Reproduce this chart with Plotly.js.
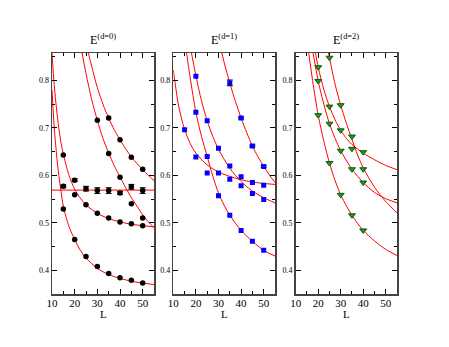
<!DOCTYPE html>
<html>
<head>
<meta charset="utf-8">
<script src="https://cdn.plot.ly/plotly-3.0.1.min.js"></script>
<style>
  html, body { margin: 0; padding: 0; background: #fff; }
  #plot { width: 449px; height: 347px; }
</style>
</head>
<body>
<div id="plot"></div>
<script>
"use strict";

// ── Panel (a) E^(d=0): measured points ──
const d0_L1 = [15, 20, 25, 30, 35, 40, 45, 50];
const d0_E1 = [0.529, 0.465, 0.429, 0.408, 0.393, 0.384, 0.379, 0.373];
const d0_L2 = [15, 20, 25, 30, 35, 40, 45, 50];
const d0_E2 = [0.643, 0.559, 0.538, 0.520, 0.510, 0.502, 0.498, 0.494];
const d0_L3 = [15, 20, 25, 30, 35, 40, 45, 50];
const d0_E3 = [0.577, 0.590, 0.572, 0.568, 0.568, 0.563, 0.576, 0.568];
const d0_err3 = [0.003, 0.003, 0.005, 0.006, 0.006, 0.003, 0.005, 0.006];
const d0_L4 = [30, 35, 40, 45, 50];
const d0_E4 = [0.716, 0.646, 0.596, 0.540, 0.510];
const d0_L5 = [35, 40, 45, 50];
const d0_E5 = [0.721, 0.675, 0.638, 0.613];

// fitted curves
const d0_fitL1 = [10, 11, 12, 13, 14, 15, 17.5, 20, 22.5, 25, 30, 35, 40, 45, 50, 55];
const d0_fit1 = [0.780, 0.700, 0.645, 0.600, 0.566, 0.535, 0.492, 0.465, 0.442, 0.426, 0.404, 0.391, 0.383, 0.377, 0.373, 0.370];
const d0_fitL2 = [10, 11, 12, 13, 14, 15, 17.5, 20, 22.5, 25, 30, 35, 40, 45, 50, 55];
const d0_fit2 = [0.858, 0.790, 0.740, 0.700, 0.668, 0.645, 0.600, 0.571, 0.552, 0.538, 0.520, 0.509, 0.502, 0.497, 0.494, 0.4915];
const d0_fitL3 = [10, 55];
const d0_fit3 = [0.569, 0.569];
const d0_fitL4 = [23, 25, 27.5, 30, 32.5, 35, 37.5, 40, 42.5, 45, 47.5, 50, 52.5, 55];
const d0_fit4 = [0.865, 0.815, 0.760, 0.716, 0.678, 0.647, 0.620, 0.597, 0.574, 0.553, 0.535, 0.517, 0.502, 0.490];
const d0_fitL5 = [25.5, 27.5, 30, 32.5, 35, 37.5, 40, 42.5, 45, 47.5, 50, 52.5, 55];
const d0_fit5 = [0.868, 0.830, 0.785, 0.750, 0.721, 0.696, 0.675, 0.656, 0.639, 0.625, 0.612, 0.600, 0.589];

// ── Panel (b) E^(d=1) ──
const d1_L1 = [20, 25, 30, 35, 40, 45, 50];
const d1_E1 = [0.733, 0.640, 0.557, 0.516, 0.484, 0.461, 0.442];
const d1_L2 = [15, 20, 25, 30, 35, 40, 45, 50];
const d1_E2 = [0.696, 0.639, 0.605, 0.605, 0.592, 0.597, 0.585, 0.579];
const d1_L3 = [20, 25, 30, 35, 40, 45, 50];
const d1_E3 = [0.809, 0.715, 0.657, 0.620, 0.578, 0.562, 0.549];
const d1_L4 = [35, 40, 45, 50];
const d1_E4 = [0.795, 0.721, 0.662, 0.619];
const d1_err4 = [0.006, 0.002, 0.002, 0.002];

const d1_fitL1 = [15.5, 17.5, 20, 22.5, 25, 27.5, 30, 32.5, 35, 40, 45, 50, 55];
const d1_fit1 = [0.870, 0.805, 0.733, 0.682, 0.640, 0.598, 0.563, 0.537, 0.516, 0.484, 0.461, 0.442, 0.430];
const d1_fitL2 = [10, 12.5, 15, 17.5, 20, 25, 30, 35, 40, 45, 50, 55];
const d1_fit2 = [0.822, 0.743, 0.697, 0.667, 0.647, 0.622, 0.607, 0.598, 0.591, 0.586, 0.583, 0.581];
const d1_fitL3 = [17.5, 20, 22.5, 25, 27.5, 30, 35, 40, 45, 50, 55];
const d1_fit3 = [0.872, 0.810, 0.757, 0.715, 0.682, 0.655, 0.615, 0.587, 0.567, 0.553, 0.542];
const d1_fitL4 = [31, 32.5, 35, 37.5, 40, 42.5, 45, 47.5, 50, 52.5, 55];
const d1_fit4 = [0.868, 0.838, 0.795, 0.756, 0.721, 0.690, 0.662, 0.639, 0.619, 0.601, 0.585];

// ── Panel (c) E^(d=2) ──
const d2_L1 = [20, 25, 30, 35, 40];
const d2_E1 = [0.727, 0.626, 0.559, 0.516, 0.484];
const d2_L2 = [20, 25, 30, 35, 40];
const d2_E2 = [0.799, 0.709, 0.652, 0.613, 0.585];
const d2_L3 = [20, 25, 30, 35, 40];
const d2_E3 = [0.828, 0.745, 0.695, 0.656, 0.649];
const d2_L4 = [25, 30, 35, 40];
const d2_E4 = [0.848, 0.748, 0.682, 0.613];

const d2_fitL1 = [15.5, 17.5, 20, 22.5, 25, 27.5, 30, 32.5, 35, 37.5, 40, 45, 50, 55];
const d2_fit1 = [0.868, 0.800, 0.727, 0.672, 0.626, 0.589, 0.559, 0.536, 0.516, 0.499, 0.484, 0.462, 0.444, 0.431];
const d2_fitL2 = [17.5, 20, 22.5, 25, 27.5, 30, 35, 40, 45, 50, 55];
const d2_fit2 = [0.865, 0.799, 0.750, 0.709, 0.678, 0.652, 0.613, 0.585, 0.564, 0.551, 0.542];
const d2_fitL3 = [18.5, 20, 22.5, 25, 27.5, 30, 32.5, 35, 40, 45, 50, 55];
const d2_fit3 = [0.866, 0.828, 0.781, 0.745, 0.717, 0.695, 0.678, 0.665, 0.647, 0.633, 0.621, 0.612];
const d2_fitL4 = [24.3, 25, 27.5, 30, 32.5, 35, 37.5, 40, 45, 50, 55];
const d2_fit4 = [0.865, 0.848, 0.792, 0.748, 0.710, 0.676, 0.643, 0.616, 0.575, 0.545, 0.521];

const PANEL_TITLES = ["E<sup>(d=0)</sup>", "E<sup>(d=1)</sup>", "E<sup>(d=2)</sup>"];
const X_TITLE = "L";
const FONT = "Liberation Serif, Times New Roman, serif";

const MARK = [
    { symbol: "circle", size: 5.5, color: "#000000", line: { width: 0 } },
    { symbol: "square", size: 5, color: "#0000ff", line: { width: 0 } },
    { symbol: "triangle-down", size: 6, color: "#1f9a1f", line: { width: 1, color: "#0b5a0b" } },
];

function fitTrace(x, y, ax) {
    return {
        type: "scatter", mode: "lines", x, y,
        xaxis: "x" + ax, yaxis: "y" + ax,
        line: { color: "#ff0000", width: 1, shape: "spline", smoothing: 0.8 },
        hoverinfo: "skip",
    };
}
function ptTrace(x, y, ax, mk, err) {
    const t = {
        type: "scatter", mode: "markers", x, y,
        xaxis: "x" + ax, yaxis: "y" + ax,
        marker: mk,
    };
    if (err) t.error_y = { type: "data", array: err, color: "#000", thickness: 1, width: 3 };
    return t;
}

const traces = [
    fitTrace(d0_fitL1, d0_fit1, ""), fitTrace(d0_fitL2, d0_fit2, ""),
    fitTrace(d0_fitL3, d0_fit3, ""), fitTrace(d0_fitL4, d0_fit4, ""),
    fitTrace(d0_fitL5, d0_fit5, ""),
    ptTrace(d0_L1, d0_E1, "", MARK[0]), ptTrace(d0_L2, d0_E2, "", MARK[0]),
    ptTrace(d0_L3, d0_E3, "", MARK[0], d0_err3), ptTrace(d0_L4, d0_E4, "", MARK[0]),
    ptTrace(d0_L5, d0_E5, "", MARK[0]),

    fitTrace(d1_fitL1, d1_fit1, "2"), fitTrace(d1_fitL2, d1_fit2, "2"),
    fitTrace(d1_fitL3, d1_fit3, "2"), fitTrace(d1_fitL4, d1_fit4, "2"),
    ptTrace(d1_L1, d1_E1, "2", MARK[1]), ptTrace(d1_L2, d1_E2, "2", MARK[1]),
    ptTrace(d1_L3, d1_E3, "2", MARK[1]), ptTrace(d1_L4, d1_E4, "2", MARK[1], d1_err4),

    fitTrace(d2_fitL1, d2_fit1, "3"), fitTrace(d2_fitL2, d2_fit2, "3"),
    fitTrace(d2_fitL3, d2_fit3, "3"), fitTrace(d2_fitL4, d2_fit4, "3"),
    ptTrace(d2_L1, d2_E1, "3", MARK[2]), ptTrace(d2_L2, d2_E2, "3", MARK[2]),
    ptTrace(d2_L3, d2_E3, "3", MARK[2]), ptTrace(d2_L4, d2_E4, "3", MARK[2]),
];

const W = 449, H = 347;
const xDomains = [[52 / W, 154 / W], [173.3 / W, 275 / W], [295.7 / W, 397 / W]];
const yDomain = [1 - 294 / H, 1 - 53 / H];

function xAxis(dom, anchor) {
    return {
        domain: dom, anchor, range: [10, 55],
        tick0: 10, dtick: 10, ticks: "inside", ticklen: 5, tickcolor: "#000",
        ticklabelstandoff: -2,
        minor: { dtick: 5, ticks: "inside", ticklen: 3, tickcolor: "#000", showgrid: false },
        showline: true, linecolor: "#444", linewidth: 1.5, mirror: "allticks",
        showgrid: false, zeroline: false,
        tickfont: { family: FONT, size: 11, color: "#000" },
    };
}
function yAxis(anchor) {
    return {
        domain: yDomain, anchor, range: [0.35, 0.858],
        tick0: 0, dtick: 0.1, tickformat: ".1f",
        ticks: "inside", ticklen: 5, tickcolor: "#000",
        minor: { dtick: 0.05, ticks: "inside", ticklen: 3, tickcolor: "#000", showgrid: false },
        showline: true, linecolor: "#444", linewidth: 1.5, mirror: "allticks",
        showgrid: false, zeroline: false,
        tickfont: { family: FONT, size: 8, color: "#000" },
    };
}

const centers = xDomains.map(d => (d[0] + d[1]) / 2);
const annotations = [];
PANEL_TITLES.forEach((t, i) => {
    annotations.push({
        text: t, xref: "paper", yref: "paper",
        x: centers[i], xanchor: "center",
        y: 1 - 49 / H, yanchor: "bottom",
        showarrow: false, font: { family: FONT, size: 12, color: "#000" },
    });
    annotations.push({
        text: X_TITLE, xref: "paper", yref: "paper",
        x: centers[i], xanchor: "center",
        y: 1 - 306 / H, yanchor: "top",
        showarrow: false, font: { family: FONT, size: 11, color: "#000" },
    });
});

const layout = {
    width: W, height: H,
    margin: { l: 0, r: 0, t: 0, b: 0 },
    showlegend: false,
    paper_bgcolor: "#fff", plot_bgcolor: "#fff",
    xaxis: xAxis(xDomains[0], "y"), yaxis: yAxis("x"),
    xaxis2: xAxis(xDomains[1], "y2"), yaxis2: yAxis("x2"),
    xaxis3: xAxis(xDomains[2], "y3"), yaxis3: yAxis("x3"),
    annotations,
};

Plotly.newPlot("plot", traces, layout, { staticPlot: true, displayModeBar: false });
</script>
</body>
</html>
